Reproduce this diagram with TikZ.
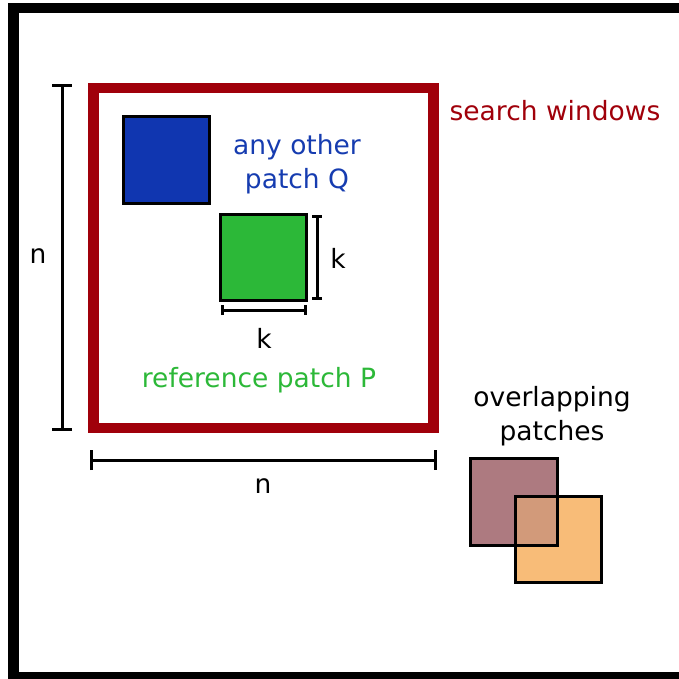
\documentclass[tikz,border=0pt]{standalone}
\usepackage{fontspec}
\setmainfont{DejaVu Sans}
\usetikzlibrary{arrows.meta}
\definecolor{winred}{RGB}{160,0,10}
\definecolor{qblue}{RGB}{16,54,176}
\definecolor{qtext}{RGB}{22,60,176}
\definecolor{pgreen}{RGB}{44,184,56}
\definecolor{brownp}{RGB}{173,122,128}
\definecolor{orangep}{RGB}{248,188,120}
\definecolor{mixp}{RGB}{210,154,122}
\begin{document}
\begin{tikzpicture}[x=1pt,y=-1pt,
  lbl/.style={font=\fontsize{26.5}{33}\selectfont, inner sep=0pt, align=center},
  patchbox/.style={draw=black, line width=3pt, inner sep=0pt, minimum size=86pt, outer sep=0pt},
  dimbar/.style={line width=3pt, {Bar[width=#1]}-{Bar[width=#1]}},
  dimbar/.default=20pt]
\useasboundingbox (0,0) rectangle (678,679);
% outer frame
\draw[line width=10.5pt] (13.5,8) rectangle (690,677);
% search window
\node[draw=winred, line width=10.5pt, minimum size=340pt, inner sep=0pt] (win) at (263.5,258) {};
\node[lbl, text=winred] (wlab) at (555,111) {search windows};
% patches
\node[patchbox, fill=qblue] (q) at (166,160) {};
\node[lbl, text=qtext] (qlab) at (297,164) {any other\\[1pt]patch Q};
\node[patchbox, fill=pgreen] (p) at (263,257) {};
\node[lbl, text=pgreen] (plab) at (259,380) {reference patch P};
% k dimensions
\coordinate (kv1) at (317,215);
\coordinate (kv2) at (317,300);
\draw[dimbar=10pt] (kv1) -- (kv2);
\node[lbl] (kvl) at (338,258) {k};
\coordinate (kh1) at (221,310);
\coordinate (kh2) at (307,310);
\draw[dimbar=10pt] (kh1) -- (kh2);
\node[lbl] (khl) at (264,338) {k};
% n dimensions
\coordinate (nv1) at (62,84);
\coordinate (nv2) at (62,431);
\draw[dimbar] (nv1) -- (nv2);
\node[lbl] (nvl) at (38,256) {n};
\coordinate (nh1) at (90,460);
\coordinate (nh2) at (437,460);
\draw[dimbar] (nh1) -- (nh2);
\node[lbl] (nhl) at (263,486) {n};
% overlapping patches
\node[lbl] (olab) at (552,416) {overlapping\\[1pt]patches};
\fill[brownp] (470,458) rectangle (557,545);
\fill[orangep] (515,496) rectangle (601,582);
\fill[mixp] (515,496) rectangle (557,545);
\node[draw=black, line width=3pt, minimum size=87pt, inner sep=0pt] (b1) at (513.5,501.5) {};
\node[draw=black, line width=3pt, minimum size=86pt, inner sep=0pt] (b2) at (558,539) {};
\end{tikzpicture}
\end{document}
